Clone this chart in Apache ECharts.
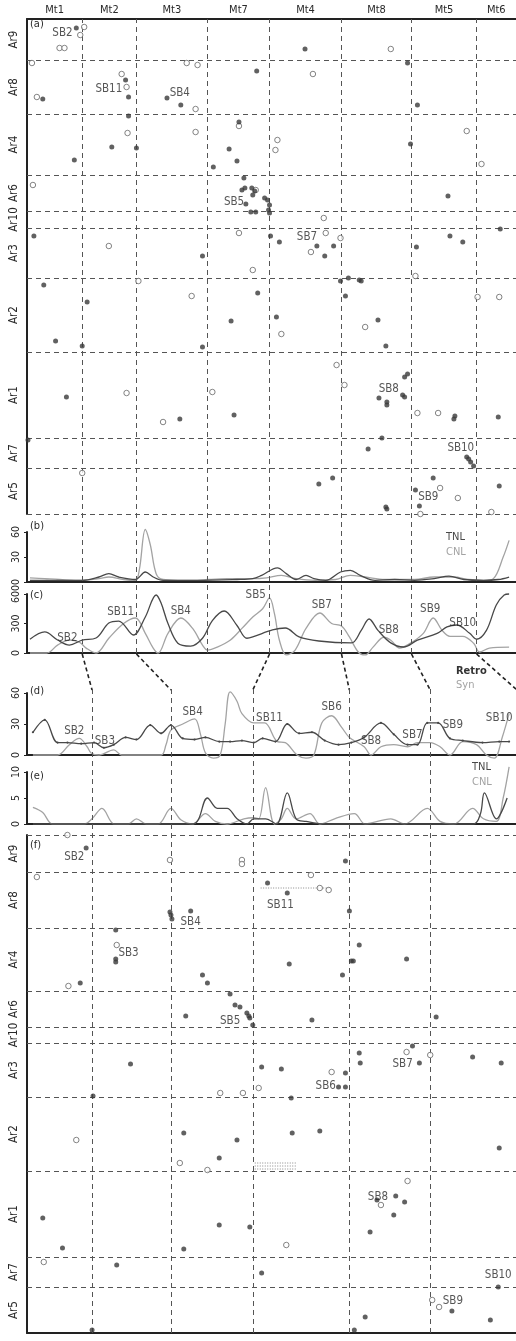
<!DOCTYPE html>
<html><head><meta charset="utf-8">
<script src="https://cdn.jsdelivr.net/npm/echarts@6/dist/echarts.min.js"></script>
<style>html,body{margin:0;padding:0;background:#fff}#c{width:516px;height:1341px}</style>
</head><body><div id="c"></div><script>
const FONT = '"DejaVu Sans Condensed","DejaVu Sans",sans-serif';
const INK = '#2a2a2a', DARK = '#484848', LIGHT = '#a3a3a3', GUIDE = '#555';

// Medicago chromosomes along x (cumulative position units)
const topChromNames = ['Mt1','Mt2','Mt3','Mt7','Mt4','Mt8','Mt5','Mt6'];
const topChromBounds = [0,56,111,183,246,319,390,456,496];
const botChromBounds = [0,66,146,229,327,409,497];
// which top boundary joins which bottom boundary
const linkTop = [56,111,246,319,390,456];
const linkBot = [66,146,229,327,409,497];

// Arachis chromosomes along y
const arNames = ['Ar9','Ar8','Ar4','Ar6','Ar10','Ar3','Ar2','Ar1','Ar7','Ar5'];
const arBoundsA = [0,41,95,156,192,209,259,333,419,449,495];
const arBoundsF = [0,37,93,156,192,208,262,336,422,452,498];

// (a) anchors
const filledA = [[50,9],[100,61],[103,78],[16,80],[142,79],[156,86],[103,97],[233,52],[86,128],[111,129],[205,130],[213,142],[48,141],[189,148],[220,159],[218,171],[221,169],[228,169],[231,172],[282,30],[386,44],[396,86],[389,125],[427,177],[222,185],[227,193],[232,193],[229,176],[241,179],[244,181],[246,186],[245,191],[246,194],[7,217],[178,237],[247,217],[256,223],[294,227],[311,227],[302,237],[429,217],[442,223],[395,228],[480,210],[17,266],[61,283],[207,302],[29,322],[56,327],[178,328],[318,262],[326,259],[337,261],[339,262],[323,277],[234,274],[253,298],[356,301],[364,327],[383,358],[386,355],[40,378],[155,400],[210,396],[1,421],[357,379],[365,383],[365,386],[381,376],[383,378],[434,397],[433,400],[478,398],[360,419],[346,430],[446,438],[448,440],[450,443],[453,447],[296,465],[310,459],[412,459],[394,471],[398,487],[364,488],[365,490],[479,467],[215,103]];
const openA = [[58,8],[54,16],[33,29],[38,29],[5,44],[96,55],[101,68],[10,78],[162,44],[173,46],[171,90],[215,107],[102,114],[171,113],[369,30],[290,55],[254,121],[252,131],[446,112],[461,145],[6,166],[232,171],[83,227],[215,214],[229,251],[301,199],[303,214],[318,219],[288,233],[113,262],[167,277],[394,257],[457,278],[479,278],[258,315],[343,308],[314,346],[101,374],[188,373],[138,403],[56,454],[322,366],[396,394],[417,394],[419,469],[437,479],[399,495],[471,493]];
const sbA = [['SB2',36,14],['SB11',83,70],['SB4',155,74],['SB5',210,183],['SB7',284,218],['SB8',367,370],['SB10',440,429],['SB9',407,478]];

// (f) anchors
const filledF = [[60,13],[145,77],[146,80],[147,84],[166,76],[90,95],[90,124],[90,127],[54,148],[178,140],[183,148],[206,159],[211,170],[216,172],[223,178],[225,181],[226,183],[229,190],[161,181],[105,229],[67,261],[323,26],[244,48],[264,58],[327,76],[337,110],[329,126],[331,126],[266,129],[320,140],[385,124],[289,185],[415,182],[391,211],[337,218],[338,228],[398,228],[452,222],[481,228],[238,232],[258,234],[323,238],[316,252],[323,252],[268,263],
  [159,298],[195,323],[213,305],[269,298],[297,296],[479,313],[16,383],[36,413],[91,430],[159,414],[226,392],[195,390],[355,365],[374,361],[383,367],[372,380],[348,397],[238,438],[478,452],[431,476],[470,485],[343,482],[332,495],[66,495]];
const openF = [[41,0],[10,42],[145,25],[218,25],[218,29],[91,110],[42,151],[196,258],[219,258],[288,40],[297,53],[306,55],[385,217],[409,220],[309,237],[235,253],
  [50,305],[155,328],[183,335],[17,427],[263,410],[386,346],[359,370],[411,465],[418,472]];
const sbF = [['SB2',48,22],['SB4',166,87],['SB3',103,118],['SB5',206,186],['SB11',257,70],['SB7',381,229],['SB6',303,251],['SB8',356,362],['SB10',478,440],['SB9',432,466]];
// dotted spans in (f)
const spansF = [[[237,53],[307,53]],[[231,328],[273,328]],[[231,331],[273,331]],[[231,334],[273,334]]];

// (b) gene density: TNL / CNL
const bTNL = [[3,2],[23,2],[56,2],[73,6],[83,10],[93,6],[110,3],[120,12],[128,6],[138,2],[173,2],[213,3],[229,4],[238,8],[254,17],[263,10],[273,3],[283,8],[291,4],[303,2],[318,12],[328,14],[338,8],[353,2],[373,3],[393,2],[413,4],[428,7],[443,3],[463,2],[478,3],[489,6]];
const bCNL = [[3,5],[18,4],[33,3],[56,2],[73,4],[83,6],[98,3],[110,2],[114,15],[120,63],[125,45],[131,10],[138,3],[153,2],[173,2],[183,3],[203,4],[229,4],[243,5],[258,8],[273,4],[293,2],[313,3],[328,8],[343,6],[363,3],[393,3],[413,6],[433,6],[448,3],[463,2],[473,4],[483,30],[489,50]];
// (c) retrotransposon / syntenic density
const cDark = [[3,140],[18,214],[31,132],[43,81],[56,132],[70,153],[83,305],[93,325],[108,183],[120,366],[131,590],[136,508],[143,300],[153,100],[166,70],[178,150],[188,330],[200,427],[213,280],[223,150],[229,163],[249,234],[262,254],[276,163],[296,122],[329,103],[339,230],[347,346],[356,230],[369,103],[382,61],[396,130],[416,200],[426,265],[436,285],[449,200],[456,140],[466,230],[476,488],[484,590],[489,600]];
const cLight = [[3,0],[20,0],[31,80],[43,132],[53,110],[60,50],[70,0],[83,150],[98,300],[110,356],[120,200],[128,50],[133,0],[143,200],[156,356],[168,250],[178,80],[183,30],[193,60],[206,130],[218,250],[229,366],[239,450],[246,560],[251,400],[256,130],[263,-20],[272,30],[283,250],[297,407],[309,300],[319,275],[327,163],[336,10],[343,-20],[351,60],[362,160],[369,130],[378,50],[389,100],[402,200],[412,356],[421,230],[429,170],[442,170],[453,100],[459,10],[469,50],[489,60]];
// (d) Retro / Syn
const dRetro = [[6,22],[18,34],[31,12],[41,12],[55,11],[68,12],[78,7],[88,10],[100,17],[111,15],[125,29],[136,21],[146,29],[158,16],[170,15],[181,17],[195,13],[206,13],[218,14],[230,12],[239,16],[252,13],[264,30],[276,21],[289,22],[302,14],[316,10],[329,12],[342,17],[359,31],[372,20],[386,10],[396,10],[406,31],[417,31],[429,16],[442,14],[462,12],[479,13],[489,13]];
const dSyn = [[6,0],[31,0],[43,10],[53,16],[61,8],[65,2],[73,0],[88,5],[96,0],[136,0],[141,10],[146,24],[158,30],[170,35],[176,20],[181,2],[189,-3],[196,0],[201,30],[206,61],[213,52],[218,40],[230,31],[241,31],[254,13],[262,12],[274,0],[283,-3],[291,0],[299,31],[309,38],[319,27],[327,17],[342,8],[349,0],[359,8],[372,10],[386,8],[396,12],[409,12],[419,8],[429,0],[442,13],[456,10],[466,0],[474,-3],[482,17],[489,40]];
// (e) TNL / CNL
const eTNL = [[6,0],[168,0],[183,5],[193,3],[203,3],[213,1],[223,0],[230,1],[242,1],[253,0],[264,6],[273,1],[283,0.5],[300,0],[453,0],[460,2],[464,6],[476,1],[487,5]];
const eCNL = [[6,3.2],[16,2.2],[26,0],[58,0],[66,1],[76,3],[85,0.5],[88,0],[103,0],[111,1],[121,0],[133,0],[146,3],[156,0.8],[168,0],[181,2],[191,0.5],[203,0],[220,1],[230,1.2],[235,1],[242,7],[251,0],[258,1],[264,3],[273,1],[287,2],[297,0],[312,1],[332,2],[343,0],[369,1],[383,0],[406,3],[419,0.5],[433,0],[452,3],[463,1],[476,0.5],[483,5],[489,11]];
const sbC = [['SB2',41,150],['SB11',95,420],['SB4',156,430],['SB5',232,590],['SB7',299,490],['SB8',367,230],['SB9',409,450],['SB10',442,310]];
const sbD = [['SB2',48,23],['SB3',79,14],['SB4',168,42],['SB5',206,68],['SB11',246,36],['SB6',309,46],['SB8',349,14],['SB7',391,19],['SB9',432,29],['SB10',479,36]];

const yTicksB = [0,30,60], yTicksC = [0,300,600], yTicksD = [0,30,60], yTicksE = [0,5,10];

// ---------- helpers ----------
const mid = b => b.slice(0,-1).map((v,i)=>(v+b[i+1])/2);
const L = 27, W = 496;
const gridTops = [19,532,594,693,772,835,19,688];
const gridHeights = [495,50,59,62,52,498,634,645];
const grids = gridTops.map((t,i)=>({left:L, width:W, top:t, height:gridHeights[i], containLabel:false}));
const txt = (size, color) => ({fontFamily:FONT, fontSize:size, color:color||INK});

function rowAxis(gi, bounds){
  const c = mid(bounds), map = new Map(c.map((v,i)=>[v, arNames[i]]));
  return {gridIndex:gi, type:'value', inverse:true, min:0, max:bounds[bounds.length-1],
    axisLine:{show:true, onZero:false, lineStyle:{color:'#222', width:2}}, axisTick:{show:false}, splitLine:{show:false},
    axisLabel:{...txt(11.5), customValues:c, rotate:90, margin:7, formatter:v=>map.get(v)||''}};
}
function valAxis(gi, max, ticks){
  return {gridIndex:gi, type:'value', min:0, max:max,
    axisLine:{show:true, onZero:false, lineStyle:{color:'#222', width:2}},
    axisTick:{show:true, customValues:ticks, length:3, lineStyle:{color:'#222'}},
    splitLine:{show:false},
    axisLabel:{...txt(10.5), customValues:ticks, rotate:90, margin:5}};
}
function baseX(gi, showLine){
  return {gridIndex:gi, type:'value', min:0, max:W, show:!!showLine,
    axisLine:{show:!!showLine, onZero:false, lineStyle:{color:'#222', width:2}},
    axisTick:{show:false}, axisLabel:{show:false}, splitLine:{show:false}};
}

const topCenters = mid(topChromBounds);
const topMap = new Map(topCenters.map((v,i)=>[v, topChromNames[i]]));
const xAxis = [
  {gridIndex:0, type:'value', min:0, max:W, position:'top',
   axisLine:{show:true, onZero:false, lineStyle:{color:'#222', width:2}}, axisTick:{show:false}, splitLine:{show:false},
   axisLabel:{...txt(11), customValues:topCenters, margin:3, formatter:v=>topMap.get(v)||''}},
  baseX(1,true), baseX(2,true), baseX(3,true), baseX(4,true), baseX(5,true), baseX(6,false), baseX(7,false)
];
const yAxis = [
  rowAxis(0, arBoundsA), valAxis(1,60,yTicksB), valAxis(2,600,yTicksC), valAxis(3,60,yTicksD), valAxis(4,10,yTicksE),
  rowAxis(5, arBoundsF),
  {gridIndex:6, type:'value', min:0, max:1, show:false},
  {gridIndex:7, type:'value', min:0, max:1, show:false}
];

const dash = {type:[5,4], color:GUIDE, width:1};
function guideSeries(gi, vals, horiz){
  return {type:'scatter', xAxisIndex:gi, yAxisIndex:gi, data:[], silent:true,
    markLine:{silent:true, symbol:['none','none'], label:{show:false}, lineStyle:dash, animation:false,
      data: vals.map(v=> horiz ? {yAxis:v} : {xAxis:v})}};
}
function pts(gi, data, open){
  return {type:'scatter', xAxisIndex:gi, yAxisIndex:gi, data, symbol:'circle', silent:true,
    symbolSize: open?5.5:5, z:5,
    itemStyle: open ? {color:'#fff', borderColor:'#666', borderWidth:1} : {color:'#3a3a3a'}};
}
function labels(gi, arr){
  return {type:'scatter', xAxisIndex:gi, yAxisIndex:gi, symbolSize:0, silent:true, z:6,
    data: arr.map(a=>({name:a[0], value:[a[1],a[2]]})),
    label:{show:true, position:'inside', formatter:p=>p.name, ...txt(11.5,'#2a2a2a')}};
}
function curve(gi, data, color, dots){
  return {type:'line', xAxisIndex:gi, yAxisIndex:gi, data, smooth:0.35, clip:false, silent:true,
    showSymbol:!!dots, symbol:'circle', symbolSize:2.2, itemStyle:{color:color},
    lineStyle:{color, width:1.3}, z: dots?4:3};
}
function span(gi, seg){
  return {type:'line', xAxisIndex:gi, yAxisIndex:gi, data:seg, showSymbol:false, silent:true, z:4,
    lineStyle:{color:'#888', width:1, type:[1,1.5]}};
}

const series = [
  guideSeries(6, topChromBounds.slice(1,-1), false),
  guideSeries(7, botChromBounds.slice(1,-1), false),
  guideSeries(0, arBoundsA.slice(1), true),
  guideSeries(5, arBoundsF.slice(0,-1), true),
  pts(0, openA, true), pts(0, filledA, false), labels(0, sbA),
  ...spansF.map(s=>span(5, s)),
  pts(5, openF, true), pts(5, filledF, false), labels(5, sbF),
  curve(1, bCNL, LIGHT), curve(1, bTNL, DARK),
  curve(2, cLight, LIGHT), curve(2, cDark, DARK), labels(2, sbC),
  curve(3, dSyn, LIGHT), curve(3, dRetro, DARK, true), labels(3, sbD),
  curve(4, eCNL, LIGHT), curve(4, eTNL, DARK)
];

const chart = echarts.init(document.getElementById('c'), null, {renderer:'canvas'});
chart.setOption({animation:false, backgroundColor:'#fff', grid:grids, xAxis, yAxis, series});

// panel letters, legends and the dashed links between (c) and (d)
const g = [];
const letters = ['(a)','(b)','(c)','(d)','(e)','(f)'];
const letterTop = [19,521,590,686,771,840];
letters.forEach((t,i)=>g.push({type:'text', left:L+3, top:letterTop[i], style:{text:t, font:'11px '+FONT, fill:INK}}));
const legends = [['TNL',446,532,DARK],['CNL',446,547,LIGHT],['Retro',456,666,'#333'],['Syn',456,680,LIGHT],['TNL',472,762,DARK],['CNL',472,777,LIGHT]];
legends.forEach(l=>g.push({type:'text', left:l[1], top:l[2], style:{text:l[0], font:(l[0]==='Retro'?'bold ':'')+'11px '+FONT, fill:l[3]}}));
linkTop.forEach((xt,i)=>{
  const p1 = chart.convertToPixel({xAxisIndex:2, yAxisIndex:2}, [xt,0]);
  const p2 = chart.convertToPixel({xAxisIndex:3, yAxisIndex:3}, [linkBot[i],60]);
  g.push({type:'line', shape:{x1:p1[0], y1:p1[1]+1, x2:p2[0], y2:p2[1]-3},
    style:{stroke:'#222', lineWidth:1.6, lineDash:[4,3]}});
});
chart.setOption({graphic:g});
</script></body></html>
